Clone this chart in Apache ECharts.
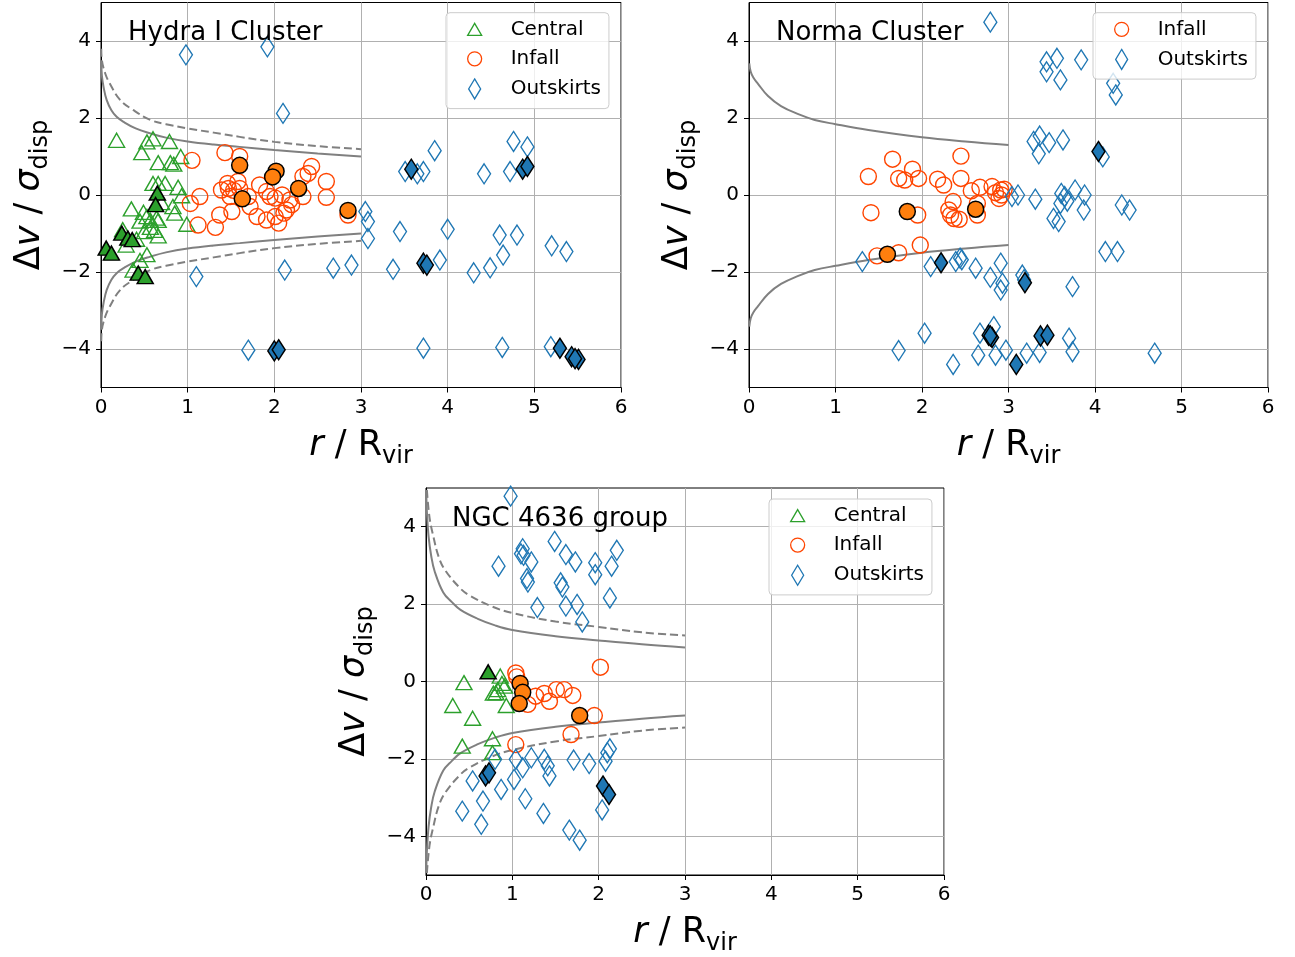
<!DOCTYPE html>
<html>
<head>
<meta charset="utf-8">
<script src="https://cdn.jsdelivr.net/npm/echarts@6.0.0/dist/echarts.min.js"></script>
<style>
html,body{margin:0;padding:0;background:#fff;}
#chart{width:1295px;height:957px;}
</style>
</head>
<body>
<div id="chart"></div>
<script>
// ---------- tick values ----------
const xTicks = [0, 1, 2, 3, 4, 5, 6];
const yTicks = [-4, -2, 0, 2, 4];

// ---------- Hydra I Cluster ----------
const hydraCentralOpen = [[0.18,1.42],[0.47,1.10],[0.53,1.38],[0.60,1.46],[0.79,1.39],[0.66,0.84],[0.80,0.84],[0.84,0.80],[0.92,1.00],[0.60,0.30],[0.66,0.30],[0.74,0.30],[0.89,0.20],[0.93,-0.02],[0.35,-0.36],[0.49,-0.45],[0.53,-0.56],[0.45,-0.68],[0.57,-0.66],[0.64,-0.60],[0.66,-0.66],[0.83,-0.30],[0.85,-0.47],[0.99,-0.76],[0.57,-0.84],[0.62,-0.92],[0.66,-1.06],[0.41,-1.15],[0.29,-1.30],[0.53,-1.55],[0.37,-1.95],[0.45,-1.70],[0.70,-0.20],[0.25,-0.90],[0.50,-0.95]];
const hydraCentralFilled = [[0.65,0.05],[0.63,-0.25],[0.24,-0.99],[0.31,-1.12],[0.36,-1.16],[0.06,-1.38],[0.12,-1.51],[0.43,-2.03],[0.51,-2.12]];
const hydraInfallOpen = [[1.43,1.10],[1.60,1.00],[1.05,0.90],[2.43,0.74],[2.39,0.56],[2.33,0.48],[2.60,0.35],[1.58,0.35],[1.83,0.26],[1.47,0.17],[1.39,0.13],[1.53,0.12],[1.60,0.17],[1.14,-0.04],[1.03,-0.22],[1.49,-0.04],[1.70,-0.04],[1.91,0.09],[1.95,-0.04],[2.01,-0.08],[2.09,0.00],[2.18,-0.13],[2.33,-0.04],[2.60,-0.06],[1.37,-0.52],[1.51,-0.43],[1.80,-0.56],[1.91,-0.65],[2.01,-0.56],[2.11,-0.47],[2.14,-0.39],[2.05,-0.73],[1.12,-0.78],[1.32,-0.84],[2.85,-0.52],[1.46,0.30],[2.20,-0.25],[1.72,-0.30]];
const hydraInfallFilled = [[1.60,0.77],[2.02,0.62],[1.98,0.47],[2.28,0.17],[1.63,-0.10],[2.85,-0.40]];
const hydraOutOpen = [[0.98,3.64],[1.92,3.85],[2.10,2.12],[1.10,-2.12],[2.12,-1.95],[2.68,-1.90],[2.89,-1.82],[1.70,-4.03],[3.05,-0.43],[3.08,-0.69],[3.08,-1.13],[3.45,-0.95],[3.37,-1.93],[3.51,0.61],[3.72,0.61],[3.65,0.55],[3.85,1.15],[3.91,-1.69],[3.72,-3.98],[4.00,-0.89],[4.42,0.55],[4.30,-2.02],[4.49,-1.89],[4.60,-1.04],[4.64,-1.56],[4.80,-1.04],[4.76,1.39],[4.92,1.25],[4.72,0.61],[4.63,-3.96],[5.20,-1.32],[5.37,-1.47],[5.19,-3.94]];
const hydraOutFilled = [[2.00,-4.05],[2.05,-4.02],[3.58,0.67],[3.72,-1.77],[3.76,-1.82],[4.865,0.67],[4.92,0.74],[5.295,-3.98],[5.43,-4.20],[5.51,-4.27],[5.47,-4.25]];
const hydraSolidUp = [[0.003,3.5],[0.01,3.1],[0.03,2.8],[0.065,2.47],[0.12,2.2],[0.18,2.03],[0.26,1.9],[0.4,1.73],[0.57,1.6],[0.75,1.49],[1.0,1.39],[1.3,1.31],[1.6,1.25],[2.0,1.17],[2.5,1.08],[3.0,1.0]];
const hydraSolidLow = [[0.003,-3.5],[0.01,-3.1],[0.03,-2.8],[0.065,-2.47],[0.12,-2.2],[0.18,-2.03],[0.26,-1.9],[0.4,-1.73],[0.57,-1.6],[0.75,-1.49],[1.0,-1.39],[1.3,-1.31],[1.6,-1.25],[2.0,-1.17],[2.5,-1.08],[3.0,-1.0]];
const hydraDashUp = [[0.003,3.8],[0.01,3.5],[0.05,3.15],[0.10,2.9],[0.22,2.47],[0.37,2.21],[0.57,1.95],[0.75,1.84],[1.0,1.73],[1.3,1.62],[1.6,1.51],[2.0,1.38],[2.5,1.27],[3.0,1.19]];
const hydraDashLow = [[0.003,-3.8],[0.01,-3.5],[0.05,-3.15],[0.10,-2.9],[0.22,-2.47],[0.37,-2.21],[0.57,-1.95],[0.75,-1.84],[1.0,-1.73],[1.3,-1.62],[1.6,-1.51],[2.0,-1.38],[2.5,-1.27],[3.0,-1.19]];

// ---------- Norma Cluster ----------
const normaInfallOpen = [[1.66,0.93],[2.45,1.01],[1.38,0.48],[1.89,0.67],[1.73,0.43],[1.80,0.39],[1.96,0.43],[2.18,0.41],[2.25,0.26],[2.45,0.43],[2.57,0.11],[2.67,0.20],[2.81,0.22],[2.85,0.06],[2.91,0.13],[2.95,0.15],[2.89,-0.09],[2.92,0.00],[1.41,-0.46],[1.95,-0.52],[2.36,-0.17],[2.31,-0.39],[2.33,-0.52],[2.37,-0.61],[2.43,-0.63],[2.64,-0.22],[2.64,-0.52],[1.98,-1.30],[1.48,-1.58],[1.73,-1.50]];
const normaInfallFilled = [[1.83,-0.43],[2.62,-0.37],[1.60,-1.54]];
const normaOutOpen = [[2.79,4.49],[3.44,3.46],[3.44,3.20],[3.56,3.55],[3.60,2.99],[3.84,3.51],[4.21,2.90],[4.24,2.60],[3.29,1.39],[3.36,1.53],[3.47,1.36],[3.63,1.43],[3.35,1.07],[4.09,0.99],[3.11,0.00],[3.04,-0.04],[3.31,-0.11],[3.61,0.04],[3.65,-0.04],[3.77,0.13],[3.88,0.00],[3.60,-0.22],[3.68,-0.16],[3.87,-0.39],[3.52,-0.61],[3.58,-0.69],[4.31,-0.26],[4.40,-0.39],[1.31,-1.73],[2.10,-1.86],[2.39,-1.73],[2.44,-1.64],[2.46,-1.68],[2.62,-1.90],[2.91,-1.77],[2.79,-2.14],[2.93,-2.29],[2.91,-2.47],[3.16,-2.08],[3.18,-2.20],[3.74,-2.38],[4.12,-1.47],[4.26,-1.47],[2.03,-3.59],[1.73,-4.04],[2.36,-4.40],[2.67,-3.59],[2.83,-3.42],[2.65,-4.16],[2.85,-4.16],[2.97,-4.03],[3.21,-4.11],[3.36,-4.09],[3.70,-3.72],[3.74,-4.07],[4.69,-4.11]];
const normaOutFilled = [[4.04,1.13],[2.22,-1.76],[3.19,-2.28],[2.77,-3.64],[2.81,-3.70],[2.79,-3.66],[3.09,-4.40],[3.37,-3.66],[3.45,-3.64]];
const normaSolidUp = [[0.003,3.42],[0.02,3.2],[0.05,3.05],[0.1,2.9],[0.22,2.57],[0.37,2.31],[0.57,2.1],[0.76,1.95],[1.0,1.84],[1.38,1.69],[2.0,1.5],[2.5,1.39],[3.0,1.3]];
const normaSolidLow = [[0.003,-3.42],[0.02,-3.2],[0.05,-3.05],[0.1,-2.9],[0.22,-2.57],[0.37,-2.31],[0.57,-2.1],[0.76,-1.95],[1.0,-1.84],[1.38,-1.69],[2.0,-1.5],[2.5,-1.39],[3.0,-1.3]];

// ---------- NGC 4636 group ----------
const ngcCentralOpen = [[0.44,-0.03],[0.31,-0.62],[0.54,-0.95],[0.86,0.14],[0.91,-0.12],[0.83,-0.21],[0.81,-0.29],[0.93,-0.62],[0.77,-1.48],[0.42,-1.67],[0.77,-1.84],[0.78,-0.30],[0.88,-0.05]];
const ngcCentralFilled = [[0.72,0.25]];
const ngcInfallOpen = [[1.04,0.22],[1.05,0.12],[2.02,0.37],[1.18,-0.59],[1.27,-0.38],[1.37,-0.31],[1.43,-0.51],[1.51,-0.21],[1.60,-0.21],[1.70,-0.36],[1.95,-0.88],[1.68,-1.37],[1.04,-1.63]];
const ngcInfallFilled = [[1.09,-0.05],[1.12,-0.28],[1.08,-0.57],[1.78,-0.88]];
const ngcOutOpen = [[0.98,4.79],[0.84,2.98],[1.12,3.43],[1.10,3.30],[1.13,3.26],[1.22,3.09],[1.17,2.66],[1.18,2.57],[1.49,3.62],[1.62,3.28],[1.73,3.09],[1.56,2.55],[1.58,2.44],[1.96,3.07],[1.96,2.76],[2.15,2.98],[2.21,3.39],[2.13,2.16],[1.29,1.91],[1.62,1.95],[1.75,1.99],[1.81,1.54],[0.54,-2.57],[0.42,-3.35],[0.66,-3.09],[0.64,-3.69],[0.80,-2.01],[0.87,-2.79],[1.04,-2.01],[1.02,-2.53],[1.12,-2.23],[1.15,-3.03],[1.22,-1.97],[1.37,-2.01],[1.41,-2.18],[1.43,-2.44],[1.36,-3.41],[1.71,-2.03],[1.89,-2.12],[1.66,-3.84],[1.78,-4.10],[2.08,-2.06],[2.10,-1.84],[2.13,-1.74],[2.04,-3.32]];
const ngcOutFilled = [[0.69,-2.44],[0.73,-2.36],[2.05,-2.70],[2.12,-2.92]];
const ngcSolidUp = [[0.003,4.9],[0.01,4.4],[0.03,3.75],[0.06,3.25],[0.1,2.85],[0.2,2.3],[0.3,2.05],[0.4,1.85],[0.6,1.62],[0.8,1.45],[1.0,1.33],[1.5,1.17],[2.0,1.06],[2.5,0.96],[3.0,0.88]];
const ngcSolidLow = [[0.003,-4.9],[0.01,-4.4],[0.03,-3.75],[0.06,-3.25],[0.1,-2.85],[0.2,-2.3],[0.3,-2.05],[0.4,-1.85],[0.6,-1.62],[0.8,-1.45],[1.0,-1.33],[1.5,-1.17],[2.0,-1.06],[2.5,-0.96],[3.0,-0.88]];
const ngcDashUp = [[0.01,4.95],[0.04,4.25],[0.08,3.8],[0.15,3.2],[0.23,2.85],[0.4,2.4],[0.5,2.23],[0.75,1.95],[1.0,1.77],[1.5,1.55],[2.0,1.41],[2.5,1.27],[3.0,1.19]];
const ngcDashLow = [[0.01,-4.95],[0.04,-4.25],[0.08,-3.8],[0.15,-3.2],[0.23,-2.85],[0.4,-2.4],[0.5,-2.23],[0.75,-1.95],[1.0,-1.77],[1.5,-1.55],[2.0,-1.41],[2.5,-1.27],[3.0,-1.19]];

// ---------- styling ----------
const FONT = 'DejaVu Sans';
const C_GREEN = '#2ca02c', C_RED = '#ff4500', C_ORANGE = '#ff7f0e', C_BLUE = '#1f77b4';
const TRI_ICON = 'path://M7,0L14,12L0,12Z';
const DIA_ICON = 'path://M6,0L12,10L6,20L0,10Z';
const TRI_SIZE = [16, 14], CIRC_SIZE = 16, DIA_SIZE = [13, 20];

const chart = echarts.init(document.getElementById('chart'), null, {renderer: 'canvas'});

const grids = [
  {left: 101, top: 2.5, width: 520, height: 385},
  {left: 749, top: 2.5, width: 519, height: 385},
  {left: 426, top: 488, width: 518, height: 388}
].map(g => Object.assign(g, {show: true, borderColor: '#000', borderWidth: 1, backgroundColor: 'transparent'}));

const nameRich = {
  m: {fontFamily: FONT, fontSize: 35, lineHeight: 46, color: '#000'},
  i: {fontFamily: FONT, fontSize: 35, fontStyle: 'italic', lineHeight: 46, color: '#000'},
  s: {fontFamily: FONT, fontSize: 24, lineHeight: 46, verticalAlign: 'bottom', color: '#000'}
};
const minus = v => (v < 0 ? '\u2212' + (-v) : String(v));

const xAxes = [0,1,2].map(i => ({
  type: 'value', gridIndex: i, min: 0, max: 6, interval: 1,
  name: '{i|r}{m| / R}{s|vir}', nameLocation: 'middle', nameGap: 35,
  nameTextStyle: {rich: nameRich},
  axisLine: {show: true, onZero: false, lineStyle: {color: '#000', width: 1}},
  axisTick: {show: true, inside: false, length: 5, lineStyle: {color: '#000', width: 1}},
  axisLabel: {show: true, margin: 10, fontFamily: FONT, fontSize: 20, color: '#000', formatter: minus, customValues: xTicks},
  splitLine: {show: true, lineStyle: {color: '#b0b0b0', width: 1}}
}));
const yAxes = [0,1,2].map(i => ({
  type: 'value', gridIndex: i, min: -5, max: 5, interval: 1,
  name: '{m|\u0394}{i|v}{m| / }{i|\u03c3}{s|disp}', nameLocation: 'middle', nameRotate: 90, nameGap: 48,
  nameTextStyle: {rich: nameRich},
  axisLine: {show: true, onZero: false, lineStyle: {color: '#000', width: 1}},
  axisTick: {show: true, inside: false, length: 5, lineStyle: {color: '#000', width: 1}, customValues: yTicks},
  axisLabel: {show: true, margin: 10, fontFamily: FONT, fontSize: 20, color: '#000', formatter: minus, customValues: yTicks},
  splitLine: {show: true, lineStyle: {color: '#b0b0b0', width: 1}}
}));

function scatter(name, data, gi, symbol, size, fill, stroke, lw, z) {
  return {
    type: 'scatter', name: name, data: data, xAxisIndex: gi, yAxisIndex: gi,
    symbol: symbol, symbolSize: size, z: z,
    itemStyle: {color: fill, borderColor: stroke, borderWidth: lw, opacity: 1},
    emphasis: {disabled: true}, silent: true, clip: true
  };
}
function curve(data, gi, dashed) {
  return {
    type: 'line', data: data, xAxisIndex: gi, yAxisIndex: gi, showSymbol: false, symbol: 'none',
    smooth: 0.4, z: 1, silent: true, clip: true,
    lineStyle: {color: '#808080', width: 2, type: dashed ? [8, 4] : 'solid'}
  };
}
const NONE = 'rgba(0,0,0,0)';
const LW_OPEN = 1.4, LW_FILL = 1.5;
const series = [
  curve(hydraSolidUp, 0, false), curve(hydraSolidLow, 0, false),
  curve(hydraDashUp, 0, true), curve(hydraDashLow, 0, true),
  curve(normaSolidUp, 1, false), curve(normaSolidLow, 1, false),
  curve(ngcSolidUp, 2, false), curve(ngcSolidLow, 2, false),
  curve(ngcDashUp, 2, true), curve(ngcDashLow, 2, true),

  scatter('Central', hydraCentralOpen, 0, 'triangle', TRI_SIZE, NONE, C_GREEN, LW_OPEN, 2),
  scatter('Infall', hydraInfallOpen, 0, 'circle', CIRC_SIZE, NONE, C_RED, LW_OPEN, 2),
  scatter('Outskirts', hydraOutOpen, 0, 'diamond', DIA_SIZE, NONE, C_BLUE, LW_OPEN, 2),
  scatter('Central filled', hydraCentralFilled, 0, 'triangle', TRI_SIZE, C_GREEN, '#000', LW_FILL, 3),
  scatter('Infall filled', hydraInfallFilled, 0, 'circle', CIRC_SIZE, C_ORANGE, '#000', LW_FILL, 3),
  scatter('Outskirts filled', hydraOutFilled, 0, 'diamond', DIA_SIZE, C_BLUE, '#000', LW_FILL, 3),

  scatter('Infall', normaInfallOpen, 1, 'circle', CIRC_SIZE, NONE, C_RED, LW_OPEN, 2),
  scatter('Outskirts', normaOutOpen, 1, 'diamond', DIA_SIZE, NONE, C_BLUE, LW_OPEN, 2),
  scatter('Infall filled', normaInfallFilled, 1, 'circle', CIRC_SIZE, C_ORANGE, '#000', LW_FILL, 3),
  scatter('Outskirts filled', normaOutFilled, 1, 'diamond', DIA_SIZE, C_BLUE, '#000', LW_FILL, 3),

  scatter('Central', ngcCentralOpen, 2, 'triangle', TRI_SIZE, NONE, C_GREEN, LW_OPEN, 2),
  scatter('Infall', ngcInfallOpen, 2, 'circle', CIRC_SIZE, NONE, C_RED, LW_OPEN, 2),
  scatter('Outskirts', ngcOutOpen, 2, 'diamond', DIA_SIZE, NONE, C_BLUE, LW_OPEN, 2),
  scatter('Central filled', ngcCentralFilled, 2, 'triangle', TRI_SIZE, C_GREEN, '#000', LW_FILL, 3),
  scatter('Infall filled', ngcInfallFilled, 2, 'circle', CIRC_SIZE, C_ORANGE, '#000', LW_FILL, 3),
  scatter('Outskirts filled', ngcOutFilled, 2, 'diamond', DIA_SIZE, C_BLUE, '#000', LW_FILL, 3)
];

function legend(left, top, names) {
  const icons = {Central: TRI_ICON, Infall: 'circle', Outskirts: DIA_ICON};
  const cols = {Central: C_GREEN, Infall: C_RED, Outskirts: C_BLUE};
  return {
    left: left, top: top, orient: 'vertical', selectedMode: false,
    data: names.map(n => ({name: n, icon: icons[n],
      itemStyle: {color: NONE, borderColor: cols[n], borderWidth: 1.3}})),
    itemWidth: 14, itemHeight: 20, itemGap: 9.5, symbolKeepAspect: true,
    padding: [6.6, 8, 9, 21],
    backgroundColor: 'rgba(255,255,255,0.8)', borderColor: '#cccccc', borderWidth: 1, borderRadius: 4,
    textStyle: {fontFamily: FONT, fontSize: 20, color: '#000', lineHeight: 20, padding: [0, 0, 0, 24]}
  };
}

const titleStyle = {fontFamily: FONT, fontSize: 26, fontWeight: 'normal', color: '#000'};
const option = {
  animation: false,
  backgroundColor: '#fff',
  title: [
    {text: 'Hydra I Cluster', left: 128, top: 20, padding: 0, textStyle: titleStyle},
    {text: 'Norma Cluster', left: 776, top: 20, padding: 0, textStyle: titleStyle},
    {text: 'NGC 4636 group', left: 452, top: 506, padding: 0, textStyle: titleStyle}
  ],
  legend: [
    legend(446, 12.7, ['Central', 'Infall', 'Outskirts']),
    legend(1093, 12.7, ['Infall', 'Outskirts']),
    legend(769, 499, ['Central', 'Infall', 'Outskirts'])
  ],
  grid: grids,
  xAxis: xAxes,
  yAxis: yAxes,
  series: series
};
chart.setOption(option);
</script>
</body>
</html>
